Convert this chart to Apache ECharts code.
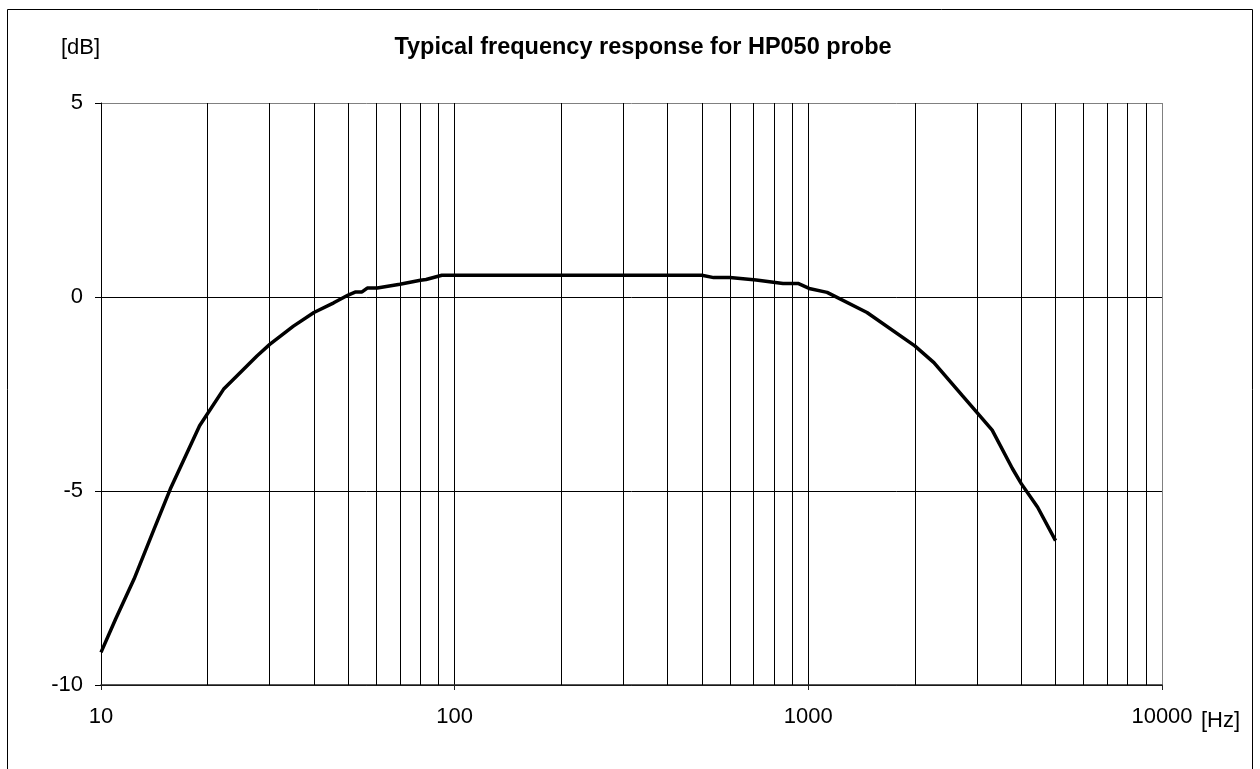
<!DOCTYPE html>
<html lang="en">
<head>
    <meta charset="UTF-8">
    <title>HP050 frequency response</title>
    <script type="text/javascript" src="https://cdn.jsdelivr.net/npm/echarts@6/dist/echarts.min.js"></script>
    <style>
        html, body { margin: 0; padding: 0; background: #fff; }
        #chart { width: 1260px; height: 769px; }
    </style>
</head>
<body>
<div id="chart"></div>
<script type="text/javascript">
    // frequency [Hz] and response [dB]
    var freq = [10, 11, 12.4, 14.1, 15.7, 19, 22.2, 27.6, 30, 35, 40, 45.5, 50, 52.5, 54.7, 56.6, 60.4, 70, 80, 83, 92,
        100, 200, 500, 540, 600, 712, 848, 935, 1005, 1130, 1465, 2000, 2265, 2730, 3000, 3310, 3775, 4000, 4450, 5000];
    var gain = [-9.16, -8.3, -7.27, -6.0, -4.95, -3.32, -2.38, -1.52, -1.22, -0.75, -0.4, -0.15, 0.05, 0.13, 0.13, 0.23, 0.23, 0.33, 0.43, 0.45, 0.56,
        0.56, 0.56, 0.56, 0.5, 0.5, 0.44, 0.35, 0.35, 0.22, 0.12, -0.4, -1.26, -1.69, -2.55, -2.98, -3.43, -4.42, -4.81, -5.42, -6.28];
    // minor grid frequencies between the decades
    var minorFreq = [20, 30, 40, 50, 60, 70, 80, 90, 200, 300, 400, 500, 600, 700, 800, 900,
        2000, 3000, 4000, 5000, 6000, 7000, 8000, 9000];
    var yTicks = [-10, -5, 0, 5];

    var points = [];
    for (var i = 0; i < freq.length; i++) {
        points.push([freq[i], gain[i]]);
    }
    var minorLines = minorFreq.map(function (f) { return { xAxis: f }; });

    var font = '"Liberation Sans", Arial, sans-serif';
    var mychart = echarts.init(document.getElementById('chart'));
    var option = {
        animation: false,
        backgroundColor: '#fff',
        grid: { left: 101, right: 98, top: 103, bottom: 84 },
        graphic: [
            { type: 'rect', shape: { x: 7.5, y: 9.5, width: 1245, height: 800 },
              style: { fill: 'none', stroke: '#000', lineWidth: 1 }, silent: true },
            { type: 'text', x: 643, y: 48,
              style: { text: 'Typical frequency response for HP050 probe', font: 'bold 23.5px ' + font,
                       fill: '#000', textAlign: 'center', textVerticalAlign: 'middle' } },
            { type: 'text', x: 61, y: 48,
              style: { text: '[dB]', font: '22px ' + font, fill: '#000', textAlign: 'left', textVerticalAlign: 'middle' } },
            { type: 'text', x: 1201, y: 721,
              style: { text: '[Hz]', font: '22px ' + font, fill: '#000', textAlign: 'left', textVerticalAlign: 'middle' } }
        ],
        xAxis: {
            type: 'log',
            logBase: 10,
            min: 10,
            max: 10000,
            axisLine: { show: true, onZero: false, lineStyle: { color: '#222', width: 1.5 } },
            axisTick: { show: true, length: 5, lineStyle: { color: '#222' } },
            axisLabel: { fontSize: 22, fontFamily: font, color: '#000', margin: 21,
                formatter: function (v) { return String(Math.round(v)); } },
            splitLine: { show: true, lineStyle: { color: ['#000', '#000', '#000', '#808080'], width: 1 } }
        },
        yAxis: {
            type: 'value',
            min: -10,
            max: 5,
            interval: 5,
            axisLine: { show: true, onZero: false, lineStyle: { color: '#000', width: 1 } },
            axisTick: { show: true, length: 6, lineStyle: { color: '#000' } },
            axisLabel: { fontSize: 22, fontFamily: font, color: '#000', margin: 18,
                customValues: yTicks },
            splitLine: { show: true, lineStyle: { color: ['#000', '#000', '#000', '#808080'], width: 1 } }
        },
        series: [{
            type: 'line',
            data: points,
            showSymbol: false,
            symbol: 'none',
            lineStyle: { color: '#000', width: 3.5 },
            markLine: {
                silent: true,
                symbol: ['none', 'none'],
                label: { show: false },
                lineStyle: { color: '#000', width: 1, type: 'solid' },
                data: minorLines,
                z: 1
            },
            z: 5
        }]
    };
    mychart.setOption(option);
</script>
</body>
</html>
